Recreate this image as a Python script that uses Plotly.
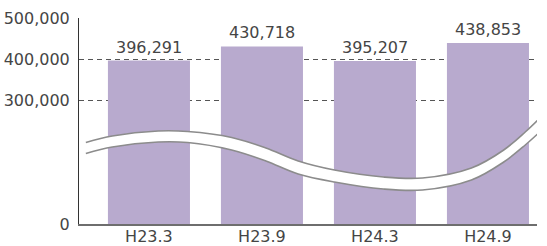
import plotly.graph_objects as go

categories = ["H23.3", "H23.9", "H24.3", "H24.9"]
values = [396291, 430718, 395207, 438853]
value_labels = ["396,291", "430,718", "395,207", "438,853"]
tick_values = [0, 300000, 400000, 500000]
tick_labels = ["0", "300,000", "400,000", "500,000"]

# decorative wave (axis break) in pixel coordinates of the page
wave_x = [86, 113, 160, 190, 235, 270, 303, 340, 390, 430, 480, 513, 535, 552]
wave_upper = [142.5, 136, 131, 131.5, 137.5, 148, 161, 170, 177, 178, 168, 150, 132, 116]
wave_lower = [153.5, 147, 142, 142.5, 150, 161, 174, 182, 189, 190, 180, 162, 145, 130]

W, H = 547, 246
L, R, T, B = 79, 0, 18, 22
PLOT_W = 458


def scale(v):
    # broken axis: 0-300k compressed, 300k-500k linear (41 units / 100k)
    if v <= 300000:
        return v / 300000 * 124
    return 124 + (v - 300000) * 41 / 100000


FONT = dict(family="DejaVu Sans", size=16, color="#454545")
BAR_COLOR = "#b8aace"

fig = go.Figure()
fig.add_trace(go.Bar(
    x=categories, y=[scale(v) for v in values],
    marker=dict(color=BAR_COLOR, line=dict(width=0)),
    width=0.726, hoverinfo="skip",
))

# wave band
fig.add_trace(go.Scatter(x=wave_x, y=wave_upper, xaxis="x2", yaxis="y2", mode="lines",
                         line=dict(width=0, shape="spline", color="white"), hoverinfo="skip"))
fig.add_trace(go.Scatter(x=wave_x, y=wave_lower, xaxis="x2", yaxis="y2", mode="lines",
                         fill="tonexty", fillcolor="white",
                         line=dict(width=0, shape="spline", color="white"), hoverinfo="skip"))
for ys in (wave_upper, wave_lower):
    fig.add_trace(go.Scatter(x=wave_x, y=ys, xaxis="x2", yaxis="y2", mode="lines",
                             line=dict(width=1.6, shape="spline", color="#8c8c8c"), hoverinfo="skip"))

for c, v, t in zip(categories, values, value_labels):
    fig.add_annotation(x=c, y=scale(v), text=t, showarrow=False, yanchor="bottom",
                       yshift=2, font=FONT, xref="x", yref="y")

fig.update_layout(
    width=W, height=H, margin=dict(l=L, r=R, t=T, b=B, autoexpand=False),
    paper_bgcolor="white", plot_bgcolor="rgba(0,0,0,0)",
    showlegend=False, font=FONT,
    xaxis=dict(domain=[0, PLOT_W / (W - L - R)], range=[-0.619, 3.434], type="category",
               showline=True, linecolor="#6e6e6e", linewidth=1.5, showgrid=False,
               ticks="", tickfont=FONT, ticklabelstandoff=-3, automargin=False, fixedrange=True),
    yaxis=dict(range=[0, 206], tickvals=[scale(v) for v in tick_values], ticktext=tick_labels,
               showline=True, linecolor="#333333", linewidth=1, showgrid=True,
               gridcolor="#555555", gridwidth=1, griddash="5px,4px", zeroline=False,
               ticks="", tickfont=FONT, ticklabelstandoff=5, automargin=False, fixedrange=True),
    xaxis2=dict(domain=[0, 1], range=[L, W], overlaying="x", visible=False, fixedrange=True),
    yaxis2=dict(range=[H - B, T], overlaying="y", visible=False, fixedrange=True),
)

fig.write_html("out.html", config={"displayModeBar": False},
               post_script="document.body.style.margin='0';document.body.style.overflow='hidden';")
